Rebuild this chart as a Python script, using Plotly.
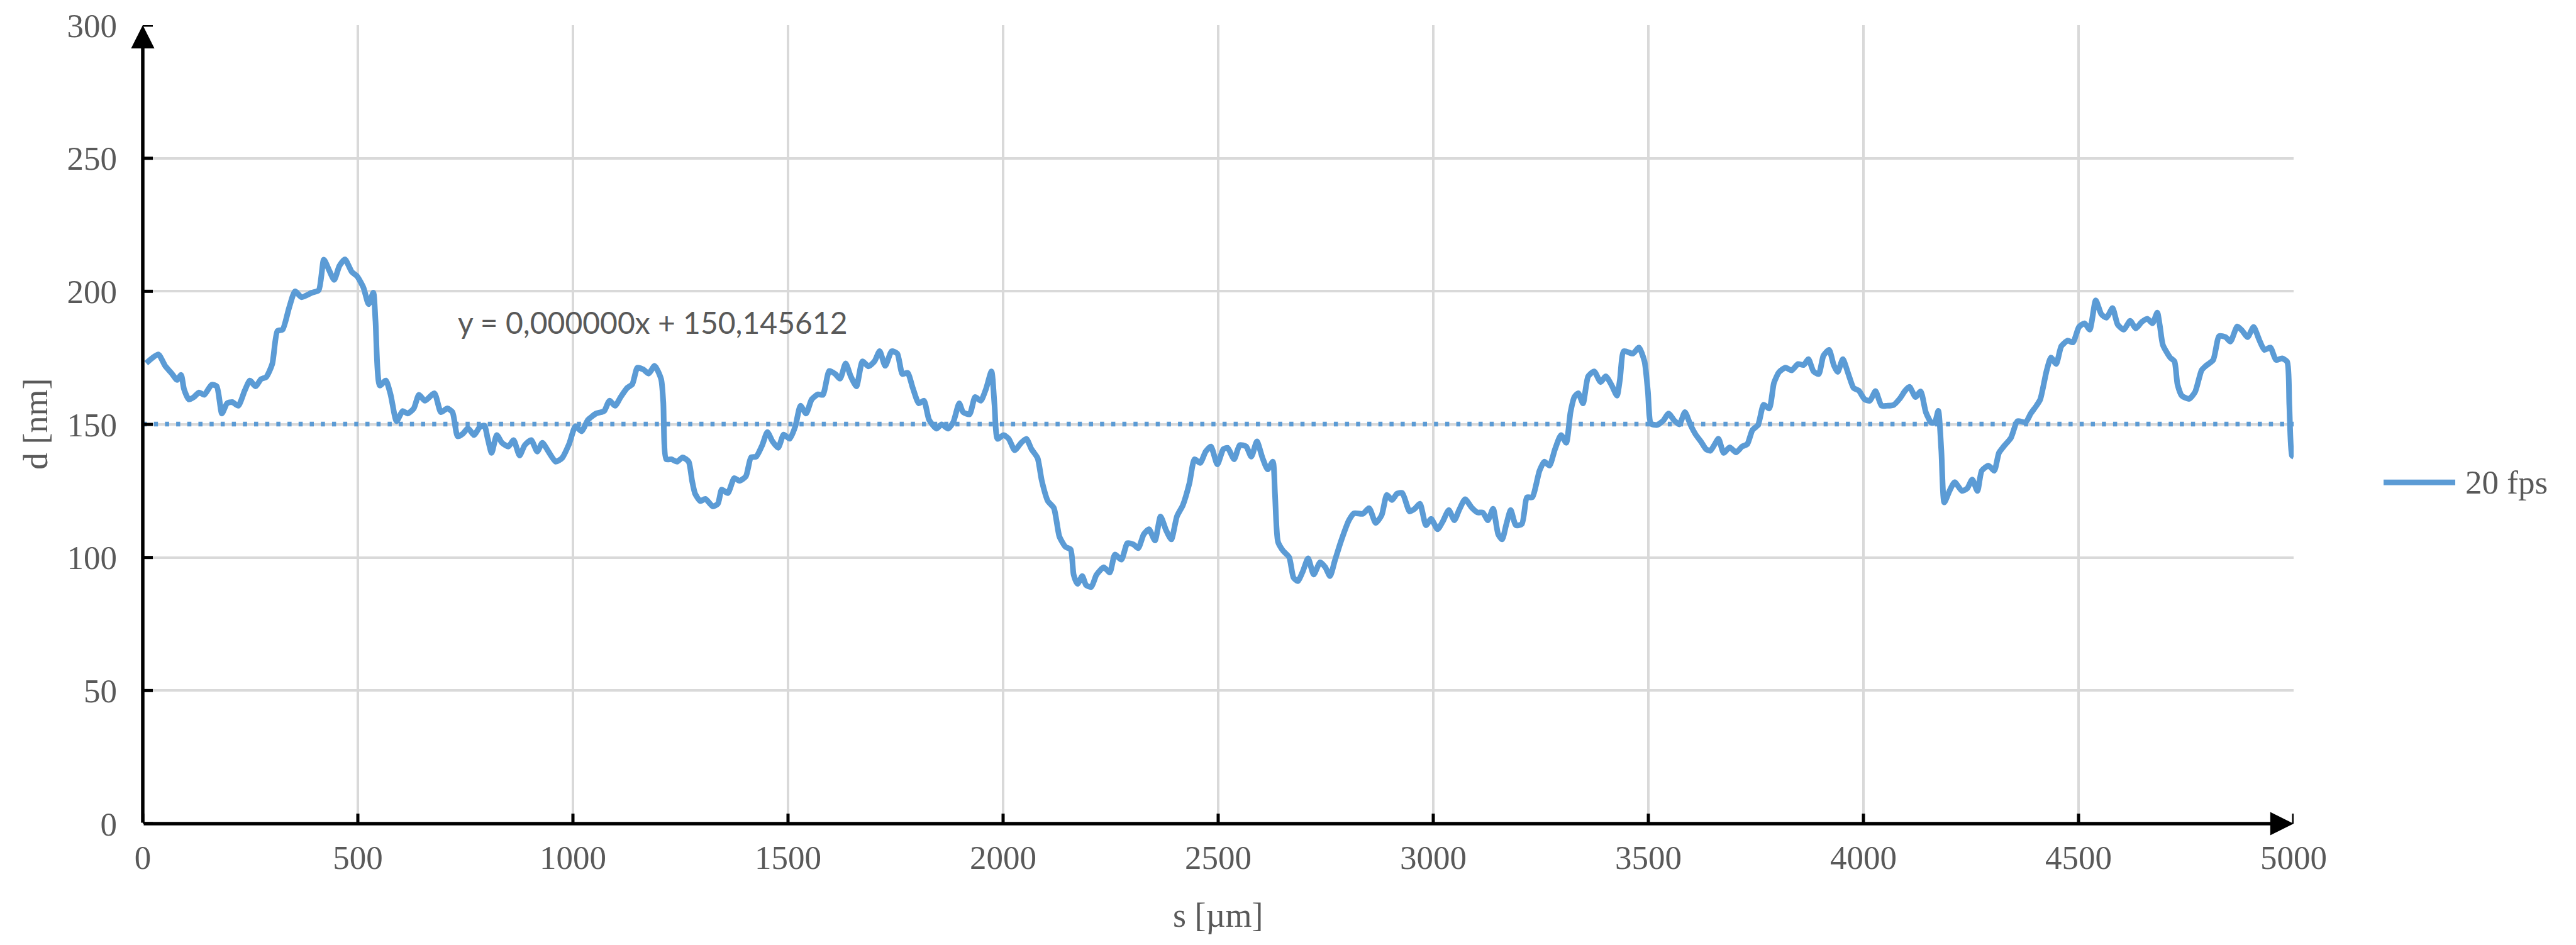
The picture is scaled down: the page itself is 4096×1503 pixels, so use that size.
import plotly.graph_objects as go

# Distance along the scan path [µm]
s_um = [
    8, 36, 52, 66, 80, 89, 96, 107, 119, 131, 143, 160, 172, 184, 196, 208, 222, 237, 249, 262,
    275, 287, 301, 313, 325, 340, 354, 369, 393, 409, 421, 433, 445, 457, 470, 486, 498, 513, 525, 536,
    541, 551, 565, 576, 590, 604, 616, 630, 642, 656, 678, 693, 708, 720, 732, 744, 756, 770, 783, 794,
    802, 811, 823, 835, 850, 862, 876, 888, 903, 917, 929, 943, 960, 975, 991, 1006, 1020, 1035, 1054, 1066,
    1073, 1085, 1098, 1111, 1126, 1138, 1150, 1164, 1176, 1190, 1205, 1210, 1217, 1229, 1242, 1255, 1269, 1277, 1284, 1296,
    1308, 1325, 1337, 1346, 1360, 1375, 1387, 1402, 1414, 1426, 1440, 1452, 1464, 1477, 1490, 1504, 1517, 1529, 1542, 1555,
    1570, 1581, 1596, 1610, 1621, 1634, 1646, 1659, 1673, 1687, 1701, 1713, 1726, 1741, 1754, 1766, 1778, 1790, 1804, 1816,
    1828, 1845, 1857, 1872, 1884, 1898, 1907, 1922, 1935, 1948, 1960, 1973, 1980, 1987, 2001, 2013, 2027, 2042, 2054, 2066,
    2080, 2090, 2104, 2118, 2131, 2145, 2157, 2164, 2173, 2184, 2193, 2205, 2217, 2234, 2248, 2260, 2275, 2289, 2303, 2314,
    2327, 2339, 2353, 2366, 2379, 2391, 2404, 2418, 2433, 2445, 2458, 2471, 2483, 2498, 2512, 2522, 2537, 2550, 2565, 2577,
    2590, 2603, 2615, 2627, 2632, 2639, 2651, 2665, 2675, 2685, 2697, 2709, 2722, 2737, 2749, 2760, 2771, 2785, 2804, 2816,
    2836, 2851, 2866, 2880, 2892, 2904, 2916, 2928, 2945, 2957, 2969, 2983, 2995, 3010, 3022, 3036, 3049, 3060, 3074, 3089,
    3103, 3115, 3127, 3139, 3151, 3160, 3170, 3180, 3192, 3206, 3218, 3230, 3247, 3258, 3270, 3283, 3297, 3309, 3319, 3328,
    3337, 3348, 3360, 3374, 3389, 3401, 3415, 3427, 3434, 3443, 3464, 3478, 3491, 3499, 3506, 3520, 3535, 3547, 3560, 3572,
    3585, 3598, 3610, 3622, 3634, 3644, 3653, 3663, 3675, 3689, 3704, 3718, 3730, 3742, 3755, 3768, 3781, 3792, 3804, 3819,
    3833, 3848, 3861, 3872, 3884, 3896, 3907, 3920, 3931, 3940, 3952, 3965, 3977, 3989, 4003, 4015, 4028, 4042, 4054, 4070,
    4085, 4097, 4107, 4121, 4133, 4145, 4158, 4166, 4174, 4181, 4188, 4200, 4212, 4229, 4241, 4253, 4265, 4275, 4291, 4304,
    4315, 4326, 4343, 4358, 4377, 4389, 4402, 4411, 4426, 4436, 4448, 4460, 4475, 4487, 4501, 4514, 4526, 4540, 4553, 4565,
    4579, 4591, 4605, 4620, 4633, 4647, 4660, 4672, 4683, 4689, 4696, 4713, 4723, 4730, 4740, 4757, 4771, 4786, 4796, 4813,
    4827, 4842, 4853, 4869, 4881, 4893, 4907, 4920, 4932, 4946, 4959, 4973, 4985, 4990, 4996, 5000,
]

# Measured thickness at 20 fps [nm]
d_nm = [
    173.0, 176.3, 172.0, 169.4, 166.7, 168.6, 163.2, 159.4, 160.3, 162.0, 161.1, 164.9, 164.3, 154.1, 157.9, 158.4, 157.0, 162.7, 166.5, 164.3,
    167.0, 167.8, 172.7, 185.1, 185.6, 193.7, 200.0, 197.8, 199.5, 200.4, 211.9, 208.0, 204.3, 209.5, 212.0, 207.3, 205.7, 201.4, 195.2, 199.5,
    189.0, 164.6, 166.5, 161.3, 151.2, 155.0, 154.1, 156.0, 161.1, 158.9, 161.7, 154.6, 156.0, 154.6, 145.5, 146.5, 148.6, 146.0, 148.9, 149.6,
    144.6, 139.3, 146.0, 143.1, 141.7, 144.1, 138.3, 142.2, 144.1, 139.8, 143.1, 139.8, 136.0, 137.4, 142.6, 149.3, 147.4, 151.7, 154.1, 154.6,
    155.1, 158.9, 157.0, 160.3, 163.7, 165.1, 171.3, 170.6, 169.1, 172.0, 167.0, 158.4, 136.9, 136.9, 136.0, 137.6, 136.0, 128.8, 124.0, 121.2,
    122.0, 119.2, 120.2, 125.5, 124.2, 129.8, 128.8, 130.5, 137.6, 137.9, 142.2, 147.1, 143.6, 141.2, 146.2, 144.6, 149.3, 157.0, 154.1, 159.4,
    161.3, 161.1, 170.1, 168.9, 167.2, 172.9, 168.0, 164.3, 173.7, 171.8, 173.7, 177.5, 172.0, 177.5, 176.6, 168.9, 169.4, 163.7, 157.9, 158.9,
    151.7, 148.4, 150.0, 148.4, 150.8, 157.9, 154.6, 153.8, 160.3, 158.9, 163.2, 169.9, 157.4, 144.6, 146.0, 144.6, 140.3, 143.1, 144.6, 140.7,
    137.4, 128.8, 121.2, 118.6, 107.8, 104.0, 103.0, 93.5, 90.1, 93.0, 89.6, 88.9, 93.5, 96.3, 94.4, 101.1, 99.2, 105.4, 104.9, 103.5,
    108.7, 110.6, 106.4, 115.4, 110.2, 106.8, 115.4, 119.7, 127.8, 136.9, 135.5, 139.8, 141.7, 135.0, 140.7, 141.2, 136.9, 142.2, 141.7, 137.9,
    143.6, 137.4, 133.1, 136.0, 124.0, 105.9, 102.5, 100.1, 92.5, 91.1, 94.9, 99.7, 93.6, 98.2, 96.3, 93.0, 98.7, 105.9, 114.0, 116.6,
    116.4, 118.5, 113.0, 115.9, 123.5, 121.6, 124.0, 124.2, 117.3, 118.3, 120.2, 112.1, 114.5, 110.6, 113.5, 117.8, 114.0, 117.8, 121.9, 118.8,
    116.9, 116.9, 114.0, 118.3, 108.7, 106.8, 112.6, 117.8, 112.1, 112.6, 122.6, 122.6, 132.6, 136.0, 134.5, 140.7, 146.0, 143.1, 154.6, 160.3,
    161.7, 157.9, 168.0, 169.9, 165.9, 168.1, 164.6, 160.8, 167.0, 177.5, 176.6, 178.9, 173.7, 162.2, 150.3, 149.8, 151.5, 154.1, 151.5, 150.0,
    154.6, 149.8, 146.2, 143.6, 140.7, 140.1, 142.2, 144.6, 139.3, 141.4, 139.5, 141.7, 142.6, 147.9, 149.8, 157.4, 156.0, 165.6, 169.7, 171.3,
    170.3, 172.7, 172.3, 174.5, 169.9, 168.9, 175.8, 178.0, 172.3, 169.7, 174.5, 168.9, 163.7, 162.7, 159.4, 158.9, 162.5, 157.0, 157.0, 157.3,
    159.8, 162.7, 164.1, 160.3, 162.4, 154.6, 150.6, 150.8, 155.1, 140.3, 120.7, 125.0, 128.3, 125.0, 125.9, 129.3, 125.0, 132.6, 134.5, 132.6,
    139.3, 141.7, 145.0, 151.2, 150.8, 154.1, 157.0, 159.4, 170.3, 175.1, 172.7, 179.4, 181.5, 180.8, 186.6, 188.0, 185.6, 196.6, 191.4, 190.1,
    193.7, 187.5, 185.6, 188.9, 186.1, 188.5, 189.7, 188.0, 192.0, 187.1, 179.9, 175.1, 173.7, 165.1, 160.8, 159.6, 162.2, 170.3, 172.0, 174.2,
    183.2, 182.8, 181.1, 186.8, 185.1, 182.8, 186.6, 181.8, 178.0, 178.9, 174.2, 174.8, 173.5, 157.4, 138.3, 137.9,
]

# Linear trendline coefficients
trend_slope = 0.000000
trend_intercept = 150.145612
trend_s = [0, 5000]

x_ticks = [0, 500, 1000, 1500, 2000, 2500, 3000, 3500, 4000, 4500, 5000]
y_ticks = [0, 50, 100, 150, 200, 250, 300]

series_name = "20 fps"
x_title = "s [µm]"
y_title = "d [nm]"

BLUE = "#5B9BD5"
GRID = "#D9D9D9"
TEXT = "#595959"
SERIF = "Liberation Serif, Times New Roman, serif"
SANS = "Lato, Calibri, sans-serif"

W, H = 4096, 1503
M_L, M_R, M_T, M_B = 227, 449, 37, 193
PW, PH = W - M_L - M_R, H - M_T - M_B


def px_x(p):
    return (p - M_L) / PW


def px_y(p):
    return (H - M_B - p) / PH


fig = go.Figure()

fig.add_trace(go.Scatter(
    x=s_um, y=d_nm, mode="lines", name=series_name,
    line=dict(color=BLUE, width=9, shape="spline", smoothing=0.6),
    showlegend=False, hoverinfo="x+y",
))

fig.add_trace(go.Scatter(
    x=trend_s, y=[trend_slope * s + trend_intercept for s in trend_s], mode="lines",
    line=dict(color=BLUE, width=7.5, dash="6.5px,11.2px"),
    showlegend=False, hoverinfo="skip",
))

axis_common = dict(
    showgrid=True, gridcolor=GRID, gridwidth=4, zeroline=False, showline=False,
    ticks="", tickfont=dict(family=SERIF, size=53, color=TEXT), fixedrange=True,
)

fig.update_layout(
    width=W, height=H,
    margin=dict(l=M_L, r=M_R, t=M_T, b=M_B, pad=0),
    paper_bgcolor="white", plot_bgcolor="white",
    xaxis=dict(range=[0, 5000], tickvals=x_ticks, ticklabelstandoff=18, **axis_common),
    yaxis=dict(range=[0, 300], tickvals=y_ticks, ticklabelstandoff=40, **axis_common),
    showlegend=False,
)

shapes = []
# cross-style tick marks on both axes
for v in y_ticks:
    shapes.append(dict(type="line", xref="x", yref="y", xsizemode="pixel", xanchor=0,
                       x0=-16, x1=16, y0=v, y1=v, line=dict(color="black", width=5), layer="above"))
for v in x_ticks:
    shapes.append(dict(type="line", xref="x", yref="y", ysizemode="pixel", yanchor=0,
                       y0=-16, y1=16, x0=v, x1=v, line=dict(color="black", width=5), layer="above"))

# legend sample line
shapes.append(dict(type="line", xref="paper", yref="paper",
                   x0=px_x(3790), x1=px_x(3904), y0=px_y(766), y1=px_y(766),
                   line=dict(color=BLUE, width=9)))
fig.update_layout(shapes=shapes)

annotations = [
    # axis lines with arrowheads
    dict(x=0, y=300, ax=0, ay=0, xref="x", yref="y", axref="x", ayref="y", text="",
         showarrow=True, arrowhead=2, arrowsize=1.35, arrowwidth=5.5, arrowcolor="black"),
    dict(x=5000, y=0, ax=0, ay=0, xref="x", yref="y", axref="x", ayref="y", text="",
         showarrow=True, arrowhead=2, arrowsize=1.35, arrowwidth=5.5, arrowcolor="black"),
    # trendline equation
    dict(x=px_x(726), y=px_y(511), xref="paper", yref="paper", xanchor="left", yanchor="middle",
         text=f"y = {trend_slope:.6f}x + {trend_intercept:.6f}".replace(".", ","),
         showarrow=False, font=dict(family=SANS, size=48, color=TEXT)),
    # axis titles
    dict(x=0.5, y=px_y(1456), xref="paper", yref="paper", xanchor="center", yanchor="middle",
         text=x_title, showarrow=False, font=dict(family=SERIF, size=54, color=TEXT)),
    dict(x=px_x(57), y=0.5, xref="paper", yref="paper", xanchor="center", yanchor="middle",
         text=y_title, textangle=-90, showarrow=False, font=dict(family=SERIF, size=54, color=TEXT)),
    # legend label
    dict(x=px_x(3918), y=px_y(766), xref="paper", yref="paper", xanchor="left", yanchor="middle",
         text=series_name, showarrow=False, font=dict(family=SERIF, size=53, color=TEXT)),
]
fig.update_layout(annotations=annotations)

fig.write_html("out.html")
